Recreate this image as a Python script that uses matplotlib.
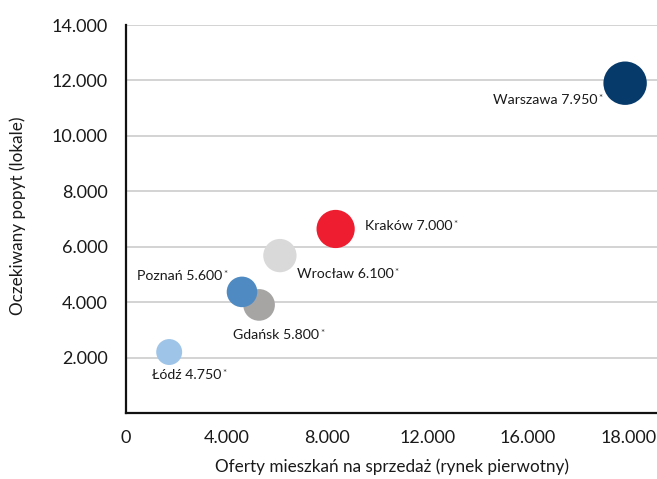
import matplotlib
matplotlib.use('Agg')
import matplotlib.pyplot as plt

# ---- data ----
cities = ['Warszawa', 'Kraków', 'Wrocław', 'Gdańsk', 'Poznań', 'Łódź']
offers = [19880, 8350, 6130, 5300, 4620, 1720]      # x: offers on primary market
demand = [11900, 6640, 5680, 3900, 4370, 2200]      # y: expected demand
values = [7950, 7000, 6100, 5800, 5600, 4750]       # bubble values
value_labels = ['7.950', '7.000', '6.100', '5.800', '5.600', '4.750']
colors = ['#063a6b', '#ee1d2f', '#d9d9d9', '#a7a4a4', '#4f8bc2', '#9ec4e8']

x_ticks = [0, 4000, 8000, 12000, 16000, 20000]
x_tick_labels = ['0', '4.000', '8.000', '12.000', '16.000', '18.000']
y_ticks = [2000, 4000, 6000, 8000, 10000, 12000, 14000]
y_tick_labels = ['2.000', '4.000', '6.000', '8.000', '10.000', '12.000', '14.000']

# label placement (pixel offsets from bubble centre) - style only
label_style = {
    'Warszawa': (-28, -17, 'right'),
    'Kraków': (29, 3, 'left'),
    'Wrocław': (17, -18, 'left'),
    'Gdańsk': (-26, -30, 'left'),
    'Poznań': (-20, 16, 'right'),
    'Łódź': (-17, -23, 'left'),
}

FONT = 'Lato'
plt.rcParams['font.family'] = [FONT, 'DejaVu Sans']

W, H = 657, 479
fig = plt.figure(figsize=(W / 100, H / 100), dpi=100)
ax = fig.add_axes([126 / W, (H - 413) / H, 531 / W, 388 / H])

# bubble radius (px) proportional to value
sizes = [(2 * v * 0.00273 * 0.72) ** 2 for v in values]
ax.scatter(offers, demand, s=sizes, c=colors, edgecolors='none', zorder=3)

ax.set_xlim(0, 21150)
ax.set_ylim(0, 14000)
ax.set_xticks(x_ticks)
ax.set_xticklabels(x_tick_labels)
ax.set_yticks(y_ticks)
ax.set_yticklabels(y_tick_labels)
ax.tick_params(axis='both', length=0, labelsize=13, colors='#1a1a1a')
ax.tick_params(axis='y', pad=13)
ax.tick_params(axis='x', pad=12)

ax.grid(axis='y', color='#c8c8c8', linewidth=1.1, zorder=0)
ax.set_axisbelow(True)
for s in ['top', 'right']:
    ax.spines[s].set_visible(False)
for s in ['left', 'bottom']:
    ax.spines[s].set_linewidth(1.6)
    ax.spines[s].set_color('#111111')

for city, x, y, vl in zip(cities, offers, demand, value_labels):
    dx, dy, ha = label_style[city]
    t = ax.annotate(f'{city} {vl}', xy=(x, y), xytext=(dx, dy),
                    textcoords='offset pixels', ha=ha, va='center',
                    fontsize=10.2, color='#1a1a1a', zorder=4)
    ax.annotate('*', xy=(1.0, 1.0), xycoords=t, ha='left', va='top',
                fontsize=7, color='#333333', xytext=(1, 0),
                textcoords='offset pixels')

fig.text(18 / W, 1 - 216 / H, 'Oczekiwany popyt (lokale)', rotation=90,
         ha='center', va='center', fontsize=12.3, color='#1a1a1a')
fig.text(392 / W, 1 - 467 / H, 'Oferty mieszkań na sprzedaż (rynek pierwotny)',
         ha='center', va='center', fontsize=12.3, color='#1a1a1a')

fig.savefig('out.png', dpi=100)
